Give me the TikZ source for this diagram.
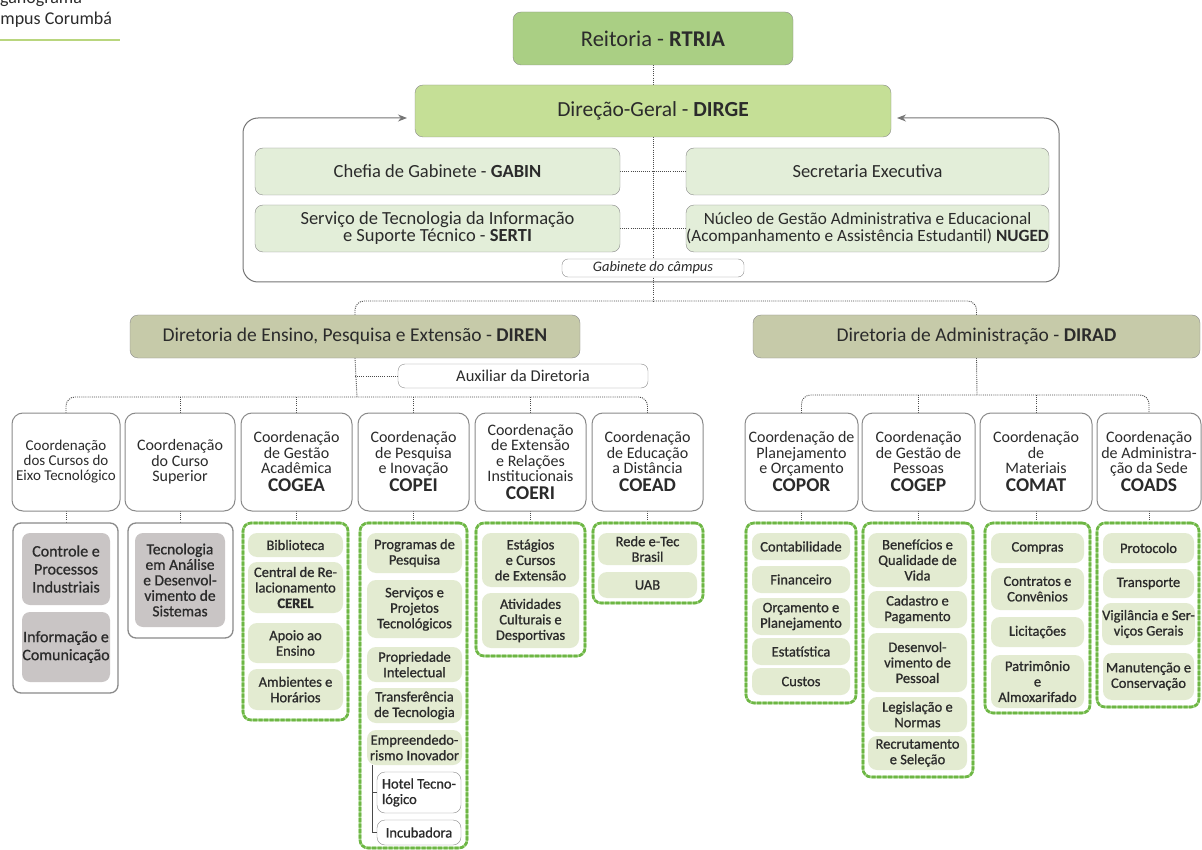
\documentclass[tikz,border=0pt]{standalone}
\usepackage{fontspec}
\setmainfont{Carlito}
\newfontfamily\semib[FakeBold=0.9]{Carlito}
\usetikzlibrary{arrows.meta}
\definecolor{txt}{HTML}{2B2B2B}
\definecolor{bord}{HTML}{8A8A8A}
\definecolor{reitc}{HTML}{AACF84}
\definecolor{dirgec}{HTML}{C5DF96}
\definecolor{gabc}{HTML}{E3EED9}
\definecolor{dirc}{HTML}{C6CAA9}
\definecolor{itemc}{HTML}{E3EBD1}
\definecolor{grayc}{HTML}{C9C5C5}
\definecolor{cgreen}{HTML}{6DB644}
\definecolor{cgreenl}{HTML}{A6D58A}
\definecolor{lnc}{HTML}{4A4A4A}
\definecolor{ulc}{HTML}{B9D67E}
\pgfdeclarelayer{bg}
\pgfsetlayers{bg,main}
\newcommand\obox[7]{\node[#1, minimum width={(#5-#3)*1pt}, minimum height={(#6-#4)*1pt}] (#2) at ({(#3+#5)/2},{(#4+#6)/2}) {#7};}
\newcommand\acr[1]{{\fontsize{19.5}{15.5}\selectfont\textbf{#1}}}
\tikzset{
 basest/.style={inner sep=0pt, outer sep=0pt, align=center, text=txt},
 reitst/.style={basest, draw=bord, fill=reitc, rounded corners=8pt, font=\fontsize{22.5}{22}\selectfont},
 dirgest/.style={basest, draw=bord, fill=dirgec, rounded corners=8pt, font=\fontsize{21.5}{22}\selectfont},
 gabst/.style={basest, draw=bord, fill=gabc, rounded corners=8pt, font=\fontsize{18.5}{17}\selectfont},
 lblst/.style={basest, draw=bord, fill=white, rounded corners=6pt, font=\fontsize{14.5}{15}\selectfont\itshape},
 dirst/.style={basest, draw=bord, fill=dirc, rounded corners=8pt, font=\fontsize{19.5}{20}\selectfont},
 auxst/.style={basest, draw=bord, fill=white, rounded corners=7pt, font=\fontsize{16.5}{16}\selectfont},
 coordst/.style={basest, draw=bord, line width=1pt, fill=white, rounded corners=11pt, font=\fontsize{16}{15.5}\selectfont},
 contg/.style={basest, fill=white, draw=cgreenl, line width=2.6pt, rounded corners=8pt,
   postaction={draw=cgreen, line width=2.6pt, dash pattern=on 4pt off 1.5pt}},
 contgr/.style={basest, fill=white, draw=bord, line width=1.3pt, rounded corners=8pt},
 itemst/.style={basest, fill=itemc, rounded corners=9pt, font=\semib\fontsize{14.5}{15.5}\selectfont},
 gitem/.style={basest, fill=grayc, rounded corners=8pt, font=\semib\fontsize{16}{18}\selectfont},
 whitem/.style={basest, draw=bord, fill=white, rounded corners=8pt, font=\semib\fontsize{14.5}{15.5}\selectfont},
 conn/.style={draw=lnc, line width=0.9pt, dash pattern=on 1pt off 1.1pt},
 framest/.style={draw=bord!85!black, line width=1pt},
 brk/.style={draw=lnc, line width=0.9pt},
}
\begin{document}
\begin{tikzpicture}[x=1pt,y=-1pt]
\useasboundingbox (0,0) rectangle (1202,850);
% title
\node[anchor=base west, inner sep=0pt, text=txt, font=\fontsize{18}{20}\selectfont] (t1) at (-18,4) {Organograma};
\node[anchor=base west, inner sep=0pt, text=txt, font=\fontsize{18}{20}\selectfont] (t2) at (-18,25) {Câmpus Corumbá};
\draw[ulc, line width=1.6pt] (0,40) -- (120,40);

% top
\obox{reitst}{reit}{513}{12}{793}{65}{Reitoria - \textbf{RTRIA}}
\obox{dirgest}{dirge}{415}{85}{891}{137}{Direção-Geral - \textbf{DIRGE}}
\coordinate (fl) at (407,118);
\coordinate (fr) at (897,118);
\draw[framest, {Stealth[length=9pt,width=7pt]}-{Stealth[length=9pt,width=7pt]}, rounded corners=15pt]
  (fl) -- (243,118) -- (243,282) -- (1059,282) -- (1059,118) -- (fr);
\obox{gabst}{gabin}{255}{148}{620}{195}{Chefia de Gabinete - \textbf{GABIN}}
\obox{gabst}{serti}{255}{205}{620}{252}{Serviço de Tecnologia da Informação\\e Suporte Técnico - \textbf{SERTI}}
\obox{gabst}{secex}{686}{148}{1049}{195}{Secretaria Executiva}
\obox{gabst, font=\fontsize{17.2}{17}\selectfont}{nuged}{686}{205}{1049}{252}{Núcleo de Gestão Administrativa e Educacional\\(Acompanhamento e Assistência Estudantil) \textbf{NUGED}}
\obox{lblst}{gcamp}{562}{259}{744}{277}{Gabinete do câmpus}

% directorates
\obox{dirst}{diren}{130}{315}{580}{358}{Diretoria de Ensino, Pesquisa e Extensão - \textbf{DIREN}}
\obox{dirst}{dirad}{753}{315}{1200}{358}{Diretoria de Administração - \textbf{DIRAD}}
\obox{auxst}{aux}{398}{364}{648}{388}{Auxiliar da Diretoria}

% coordinations (left)
\obox{coordst, font=\fontsize{15}{15}\selectfont}{c1}{12}{413}{120}{511}{Coordenação\\dos Cursos do\\Eixo Tecnológico}
\obox{coordst}{c2}{125}{413}{235}{511}{Coordenação\\do Curso\\Superior}
\obox{coordst}{c3}{241}{413}{352}{511}{Coordenação\\de Gestão\\Acadêmica\\[2.5pt]\acr{COGEA}}
\obox{coordst}{c4}{358}{413}{469}{511}{Coordenação\\de Pesquisa\\e Inovação\\[2.5pt]\acr{COPEI}}
\obox{coordst}{c5}{475}{413}{586}{511}{Coordenação\\de Extensão\\e Relações\\Institucionais\\[2.5pt]\acr{COERI}}
\obox{coordst}{c6}{592}{413}{703}{511}{Coordenação\\de Educação\\a Distância\\[2.5pt]\acr{COEAD}}
% coordinations (right)
\obox{coordst}{c7}{745}{413}{858}{511}{Coordenação de\\Planejamento\\e Orçamento\\[2.5pt]\acr{COPOR}}
\obox{coordst}{c8}{862}{413}{975}{511}{Coordenação\\de Gestão de\\Pessoas\\[2.5pt]\acr{COGEP}}
\obox{coordst}{c9}{980}{413}{1092}{511}{Coordenação\\de\\Materiais\\[2.5pt]\acr{COMAT}}
\obox{coordst}{c10}{1097}{413}{1201}{511}{Coordenação\\de Administra-\\ção da Sede\\[2.5pt]\acr{COADS}}

% containers
\obox{contgr}{k1}{13}{523}{118}{693}{}
\obox{contgr}{k2}{128}{523}{233}{638}{}
\obox{contg}{k3}{243}{523}{348}{720}{}
\obox{contg}{k4}{360}{523}{467}{848}{}
\obox{contg}{k5}{476}{523}{585}{656}{}
\obox{contg}{k6}{593}{523}{703}{603}{}
\obox{contg}{k7}{746}{523}{856}{703}{}
\obox{contg}{k8}{863}{523}{973}{777}{}
\obox{contg}{k9}{985}{523}{1090}{713}{}
\obox{contg}{k10}{1097}{523}{1199}{707}{}

% items
\obox{gitem}{i11}{22}{533}{110}{605}{Controle e\\Processos\\Industriais}
\obox{gitem}{i12}{22}{612}{110}{682}{Informação e\\Comunicação}
\obox{gitem, font=\semib\fontsize{15.5}{15.5}\selectfont}{i21}{135}{533}{225}{627}{Tecnologia\\em Análise\\e Desenvol-\\vimento de\\Sistemas}

\obox{itemst}{i31}{248}{533}{343}{557}{Biblioteca}
\obox{itemst}{i32}{248}{562}{343}{613}{Central de Re-\\lacionamento\\\textbf{CEREL}}
\obox{itemst}{i33}{248}{623}{343}{663}{Apoio ao\\Ensino}
\obox{itemst}{i34}{248}{669}{343}{710}{Ambientes e\\Horários}

\obox{itemst}{i41}{367}{533}{462}{573}{Programas de\\Pesquisa}
\obox{itemst}{i42}{367}{580}{462}{638}{Serviços e\\Projetos\\Tecnológicos}
\obox{itemst}{i43}{367}{647}{462}{682}{Propriedade\\Intelectual}
\obox{itemst}{i44}{367}{688}{462}{723}{Transferência\\de Tecnologia}
\obox{itemst}{i45}{367}{730}{462}{765}{Empreendedo-\\rismo Inovador}
\obox{whitem, align=left}{i46}{377}{772}{461}{813}{Hotel Tecno-\\lógico}
\obox{whitem}{i47}{377}{820}{461}{845}{Incubadora}

\obox{itemst}{i51}{482}{533}{579}{587}{Estágios\\e Cursos\\de Extensão}
\obox{itemst}{i52}{482}{593}{579}{648}{Atividades\\Culturais e\\Desportivas}

\obox{itemst}{i61}{598}{533}{697}{565}{Rede e-Tec\\Brasil}
\obox{itemst}{i62}{598}{572}{697}{598}{UAB}

\obox{itemst}{i71}{752}{533}{850}{560}{Contabilidade}
\obox{itemst}{i72}{752}{566}{850}{593}{Financeiro}
\obox{itemst}{i73}{752}{598}{850}{635}{Orçamento e\\Planejamento}
\obox{itemst}{i74}{752}{638}{850}{665}{Estatística}
\obox{itemst}{i75}{752}{668}{850}{695}{Custos}

\obox{itemst}{i81}{868}{533}{967}{587}{Benefícios e\\Qualidade de\\Vida}
\obox{itemst}{i82}{868}{591}{967}{628}{Cadastro e\\Pagamento}
\obox{itemst}{i83}{868}{633}{967}{692}{Desenvol-\\vimento de\\Pessoal}
\obox{itemst}{i84}{868}{697}{967}{732}{Legislação e\\Normas}
\obox{itemst}{i85}{868}{736}{967}{770}{Recrutamento\\e Seleção}

\obox{itemst}{i91}{991}{533}{1084}{563}{Compras}
\obox{itemst}{i92}{991}{568}{1084}{610}{Contratos e\\Convênios}
\obox{itemst}{i93}{991}{617}{1084}{647}{Licitações}
\obox{itemst}{i94}{991}{655}{1084}{708}{Patrimônio\\e\\Almoxarifado}

\obox{itemst}{i101}{1103}{533}{1194}{563}{Protocolo}
\obox{itemst}{i102}{1103}{569}{1194}{598}{Transporte}
\obox{itemst}{i103}{1103}{603}{1194}{645}{Vigilância e Ser-\\viços Gerais}
\obox{itemst}{i104}{1103}{653}{1194}{700}{Manutenção e\\Conservação}

% bracket under Empreendedorismo
\coordinate (bt) at (372,765);
\draw[brk] (bt) |- (i47.west);
\draw[brk] (bt |- i46.west) -- (i46.west);

% connectors
\coordinate (jtop) at (653,301);
\coordinate (jl) at (357,397);
\coordinate (jr) at (977,395);
\begin{pgfonlayer}{bg}
\draw[conn] (reit.south) -- (dirge.north);
\draw[conn] (dirge.south) -- (jtop);
\draw[conn] (gabin.east) -- (secex.west);
\draw[conn] (serti.east) -- (nuged.west);
\draw[conn, rounded corners=9pt] (diren.north) -- (diren.north |- jtop) -- (dirad.north |- jtop) -- (dirad.north);
\draw[conn] (diren.south) -- (jl);
\draw[conn] (diren.south |- aux.west) -- (aux.west);
\draw[conn, rounded corners=9pt] (c1.north) -- (c1.north |- jl) -- (c6.north |- jl) -- (c6.north);
\foreach \c in {c2,c3,c4,c5}{\draw[conn] (\c.north |- jl) -- (\c.north);}
\draw[conn] (dirad.south) -- (jr);
\draw[conn, rounded corners=9pt] (c7.north) -- (c7.north |- jr) -- (c10.north |- jr) -- (c10.north);
\foreach \c in {c8,c9}{\draw[conn] (\c.north |- jr) -- (\c.north);}
\foreach \a/\b in {c1/k1,c2/k2,c3/k3,c4/k4,c5/k5,c6/k6,c7/k7,c8/k8,c9/k9,c10/k10}{\draw[conn] (\a.south) -- (\a.south |- \b.north);}
\end{pgfonlayer}
\end{tikzpicture}
\end{document}
